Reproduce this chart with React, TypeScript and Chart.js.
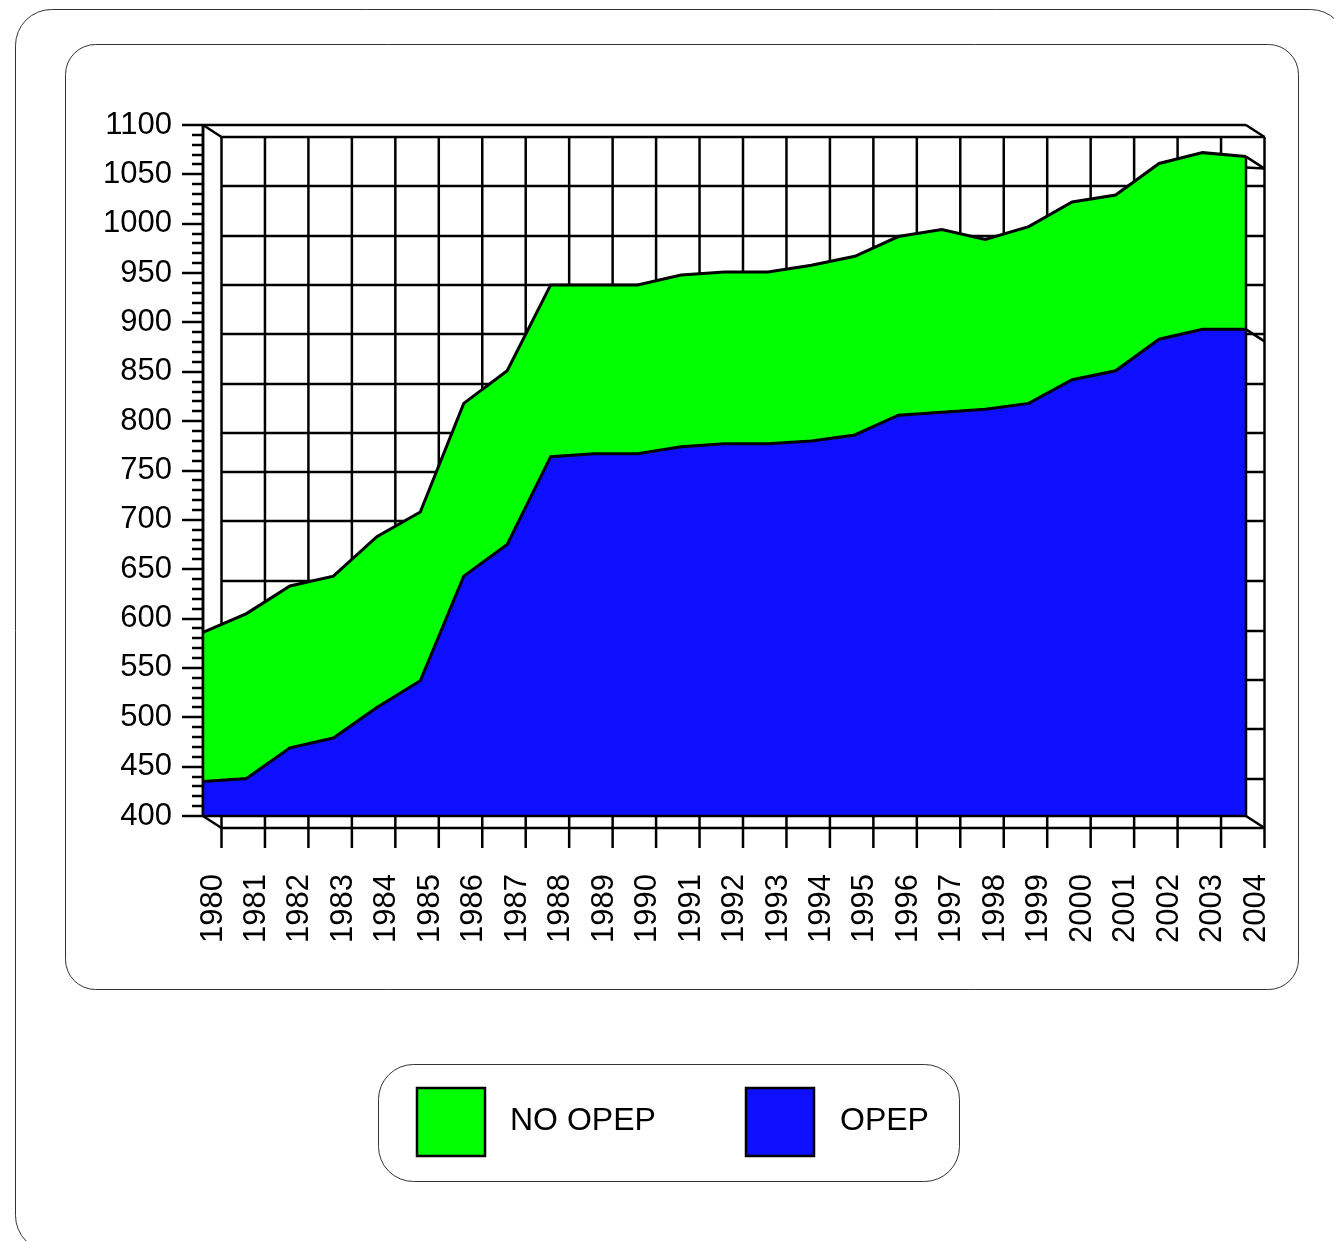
import React, { useEffect, useRef } from "react";
import { Chart, registerables } from "chart.js";

Chart.register(...registerables);

const years = ["1980","1981","1982","1983","1984","1985","1986","1987","1988","1989","1990","1991","1992","1993","1994","1995","1996","1997","1998","1999","2000","2001","2002","2003","2004"];
const opep = [435,438,469,479,510,537,643,675,764,767,767,774,777,777,780,786,806,809,812,818,842,851,883,893,893];
const noOpep = [151,167,164,164,173,171,175,176,174,171,171,174,174,174,178,181,181,185,172,179,180,178,178,179,175];
const yMin = 400;
const yMax = 1100;
const yStep = 50;
const minorStep = 10;
const GREEN = "#00ff00";
const BLUE = "#0f0fff";
const FONT = '"Liberation Sans", Arial, sans-serif';
const FONT_SIZE = 31;
const LEGEND_FONT_SIZE = 32;
const LINE = 2.5;

// Depth of the pseudo 3D back wall, in pixels.
const DX = 18.5;
const DY = 12;
// The reference draws these two back-wall lines without the usual drop.
const gridDrop: Record<number, number> = { 750: 1, 700: 1 };

function line(ctx: CanvasRenderingContext2D, x1: number, y1: number, x2: number, y2: number) {
  ctx.beginPath();
  ctx.moveTo(x1, y1);
  ctx.lineTo(x2, y2);
  ctx.stroke();
}

function rounded(ctx: CanvasRenderingContext2D, x: number, y: number, w: number, h: number, r: number) {
  ctx.beginPath();
  ctx.roundRect(x + 0.5, y + 0.5, w, h, r);
  ctx.stroke();
}

const framePlugin = {
  id: "frame",
  beforeDraw(chart: any) {
    const { ctx } = chart;
    ctx.save();
    ctx.strokeStyle = "#333";
    ctx.lineWidth = 1;
    rounded(ctx, 15, 9, 1331, 1242, 36);
    rounded(ctx, 65, 44, 1233, 945, 30);
    rounded(ctx, 378, 1064, 581, 117, 35);
    ctx.restore();
  },
  beforeDatasetsDraw(chart: any) {
    const { ctx, chartArea: a, scales } = chart;
    const { x, y } = scales;
    ctx.save();
    ctx.strokeStyle = "#000";
    ctx.lineWidth = LINE;
    ctx.lineCap = "butt";
    // back wall horizontals
    for (let v = yMin; v <= yMax; v += yStep) {
      const py = Math.round(y.getPixelForValue(v)) + (gridDrop[v] ?? DY);
      line(ctx, a.left + DX, py, a.right + DX, py);
    }
    // back wall verticals and x ticks
    years.forEach((_, i) => {
      const px = x.getPixelForValue(i) + DX;
      line(ctx, px, a.top + DY, px, a.bottom + DY + 20);
    });
    // y ticks
    for (let v = yMin; v <= yMax; v += minorStep) {
      const py = Math.round(y.getPixelForValue(v));
      const major = (v - yMin) % yStep === 0;
      line(ctx, a.left - (major ? 21 : 11), py, a.left, py);
    }
    // frame
    line(ctx, a.left, a.top, a.right, a.top);
    line(ctx, a.left, a.top - 1, a.left, a.bottom + 1);
    line(ctx, a.left, a.top, a.left + DX, a.top + DY);
    line(ctx, a.right, a.top, a.right + DX, a.top + DY);
    line(ctx, a.left, a.bottom, a.left + DX, a.bottom + DY);
    line(ctx, a.right, a.bottom, a.right + DX, a.bottom + DY);
    ctx.restore();
  },
  afterDatasetsDraw(chart: any) {
    const { ctx, chartArea: a, scales } = chart;
    const { y } = scales;
    const last = years.length - 1;
    const total = opep[last] + noOpep[last];
    const yTotal = y.getPixelForValue(total);
    const yOpep = y.getPixelForValue(opep[last]);
    ctx.save();
    ctx.strokeStyle = "#000";
    ctx.lineWidth = LINE;
    line(ctx, a.left, a.bottom, a.right, a.bottom);
    line(ctx, a.left, a.top - 1, a.left, a.bottom + 1);
    line(ctx, a.right, yTotal, a.right, a.bottom + 1);
    line(ctx, a.right, yTotal, a.right + DX, yTotal + DY);
    line(ctx, a.right, yOpep, a.right + DX, yOpep + DY);
    line(ctx, a.right, yTotal + 11, a.right + DX, yTotal + DY);
    // legend swatches and labels
    const items = [
      { ds: chart.data.datasets[1], sx: 417, tx: 510 },
      { ds: chart.data.datasets[0], sx: 746, tx: 840 },
    ];
    ctx.font = `${LEGEND_FONT_SIZE}px ${FONT}`;
    ctx.textBaseline = "middle";
    ctx.textAlign = "left";
    items.forEach(({ ds, sx, tx }) => {
      ctx.fillStyle = ds.backgroundColor;
      ctx.fillRect(sx, 1088, 68, 68);
      ctx.strokeRect(sx, 1088, 68, 68);
      ctx.fillStyle = "#000";
      ctx.fillText(ds.label, tx, 1121);
    });
    ctx.restore();
  },
};

export default function App() {
  const ref = useRef<HTMLCanvasElement>(null);
  useEffect(() => {
    if (!ref.current) return;
    const chart = new Chart(ref.current, {
      type: "line",
      data: {
        labels: years,
        datasets: [
          { label: "OPEP", data: opep, backgroundColor: BLUE, borderColor: "#000", borderWidth: 3, pointRadius: 0, tension: 0, fill: "origin", clip: false },
          { label: "NO OPEP", data: noOpep, backgroundColor: GREEN, borderColor: "#000", borderWidth: 3, pointRadius: 0, tension: 0, fill: "-1", clip: false },
        ],
      } as any,
      options: {
        animation: false,
        responsive: false,
        devicePixelRatio: 1,
        layout: { padding: { left: 103, top: 125, right: 88, bottom: 275 } },
        plugins: { legend: { display: false }, tooltip: { enabled: false }, title: { display: false } },
        scales: {
          x: {
            type: "category",
            offset: false,
            grid: { display: false, drawTicks: false },
            border: { display: false },
            afterFit: (s: any) => { s.height = 150; s.paddingLeft = 0; s.paddingRight = 0; },
            ticks: {
              autoSkip: false,
              minRotation: 90,
              maxRotation: 90,
              padding: 58,
              labelOffset: 10,
              color: "#000",
              font: { family: FONT, size: FONT_SIZE },
            },
          },
          y: {
            min: yMin,
            max: yMax,
            stacked: true,
            grid: { display: false, drawTicks: false },
            border: { display: false },
            afterFit: (s: any) => { s.width = 100; s.paddingTop = 0; s.paddingBottom = 0; },
            ticks: {
              stepSize: yStep,
              autoSkip: false,
              padding: 31,
              color: "#000",
              font: { family: FONT, size: FONT_SIZE },
              callback: (v: any) => String(v),
            },
          },
        },
      } as any,
      plugins: [framePlugin],
    });
    return () => chart.destroy();
  }, []);
  return (
    <canvas
      ref={ref}
      width={1334}
      height={1241}
      style={{ position: "absolute", left: 0, top: 0, display: "block" }}
    />
  );
}
